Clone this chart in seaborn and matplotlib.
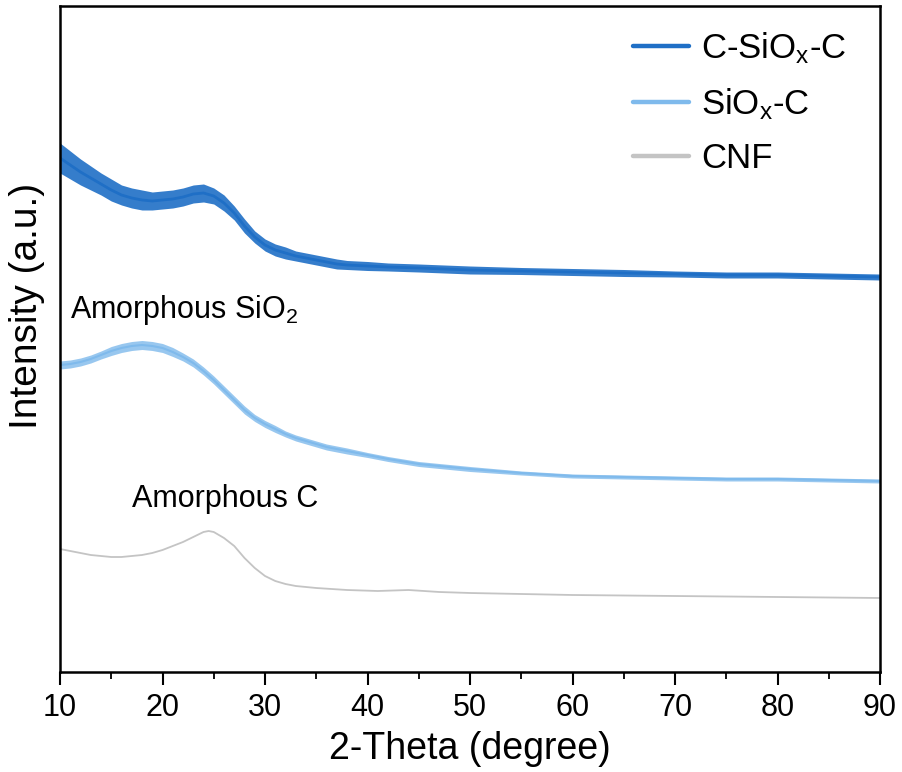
import numpy as np
import pandas as pd
import seaborn as sns
import matplotlib
matplotlib.use("Agg")
import matplotlib.pyplot as plt
from matplotlib.lines import Line2D
from matplotlib.ticker import MultipleLocator

# ---- data (arbitrary intensity units) ----
x_csio = [10, 11, 12, 13, 14, 15, 16, 17, 18, 19, 20, 21, 22, 23, 24, 25, 26, 27, 28, 29,
          30, 31, 32, 33, 34, 35, 36, 37, 38, 40, 42, 45, 50, 55, 60, 65, 70, 75, 80, 85, 90]
y_csio = [514, 507, 500, 494, 488, 482, 477, 474, 472, 471, 472, 473, 475, 478, 479, 476, 469, 459, 446, 435,
          427, 422, 419, 416, 414, 412, 410, 408, 407, 406, 405, 404, 402, 401, 400, 399, 398, 397, 397, 396, 395]
noise_csio = [15, 14, 13, 12, 11, 11, 10, 10, 10, 9, 9, 9, 9, 9, 9, 8, 8, 7, 7, 6,
              6, 6, 6, 5, 5, 5, 5, 5, 4.5, 4.5, 4, 4, 4, 3.5, 3.5, 3.5, 3, 3, 3, 3, 3]

x_sio = [10, 11, 12, 13, 14, 15, 16, 17, 18, 19, 20, 21, 22, 23, 24, 25, 26, 27, 28, 29,
         30, 31, 32, 33, 34, 35, 36, 38, 40, 42, 45, 50, 55, 60, 65, 70, 75, 80, 85, 90]
y_sio = [307, 308, 310, 313, 317, 321, 324, 326, 327, 326, 324, 320, 315, 309, 301, 292, 282, 272, 262, 254,
         248, 243, 238, 234, 231, 228, 225, 221, 217, 213, 208, 203, 199, 196, 195, 194, 193, 193, 192, 191]
noise_sio = [4, 4, 4, 4, 4, 4.5, 4.5, 4.5, 4.5, 4.5, 4.5, 4.5, 4, 4, 4, 4, 4, 4, 4, 3.5,
             3.5, 3.5, 3, 3, 3, 3, 3, 3, 2.5, 2.5, 2.5, 2.5, 2, 2, 2, 2, 2, 2, 2, 2]

x_cnf = [10, 11, 12, 13, 14, 15, 16, 17, 18, 19, 20, 21, 22, 23, 24, 24.5, 25, 26, 27, 28,
         29, 30, 31, 32, 33, 35, 38, 41, 44, 47, 50, 55, 60, 70, 80, 90]
y_cnf = [123, 121, 119, 117, 116, 115, 115, 116, 117, 119, 122, 126, 130, 135, 140, 141, 140, 134, 126, 114,
         104, 96, 91, 88, 86, 84, 82, 81, 82, 80, 79, 78, 77, 76, 75, 74]

series_names = ["C-SiO$_x$-C", "SiO$_x$-C", "CNF"]
colors = ["#1f6fc6", "#7fbaec", "#c4c4c4"]

x_ticks = [10, 20, 30, 40, 50, 60, 70, 80, 90]

df = pd.concat([
    pd.DataFrame({"x": x_csio, "y": y_csio, "s": series_names[0]}),
    pd.DataFrame({"x": x_sio, "y": y_sio, "s": series_names[1]}),
    pd.DataFrame({"x": x_cnf, "y": y_cnf, "s": series_names[2]}),
], ignore_index=True)

sns.set_style("ticks")
plt.rcParams["font.family"] = ["Liberation Sans", "DejaVu Sans"]
plt.rcParams["mathtext.default"] = "regular"
plt.rcParams["text.color"] = "black"
plt.rcParams["axes.labelcolor"] = "black"
plt.rcParams["xtick.color"] = "black"
plt.rcParams["ytick.color"] = "black"

fig = plt.figure(figsize=(9.03, 7.72), dpi=100)
ax = fig.add_axes([60 / 903, 100 / 772, 820 / 903, 666 / 772])

# noise envelopes
ax.fill_between(x_csio, np.array(y_csio) - np.array(noise_csio), np.array(y_csio) + np.array(noise_csio),
                color=colors[0], alpha=0.9, lw=0)
ax.fill_between(x_sio, np.array(y_sio) - np.array(noise_sio), np.array(y_sio) + np.array(noise_sio),
                color=colors[1], alpha=0.8, lw=0)

sns.lineplot(data=df, x="x", y="y", hue="s", palette=colors, estimator=None, sort=False,
             ax=ax, legend=False)
for ln, w in zip(ax.lines, [2.0, 1.5, 1.3]):
    ln.set_linewidth(w)

ax.set_xlim(10, 90)
ax.set_ylim(0, 666)
ax.set_yticks([])
ax.set_xticks(x_ticks)
ax.set_xticklabels([str(t) for t in x_ticks])
ax.xaxis.set_minor_locator(MultipleLocator(5))
ax.tick_params(axis="x", which="major", direction="out", length=9, width=1.5, labelsize=22, pad=6,
               colors="black", labelcolor="black")
ax.tick_params(axis="x", which="minor", direction="out", length=5, width=1.3, colors="black")
for sp in ax.spines.values():
    sp.set_visible(True)
    sp.set_linewidth(1.8)
    sp.set_color("black")

ax.set_xlabel("2-Theta (degree)", fontsize=27, color="black")
ax.set_ylabel("Intensity (a.u.)", fontsize=28, color="black")
ax.xaxis.set_label_coords(0.5, -0.088)
ax.yaxis.set_label_coords(-0.018, 0.55)

ax.text(11.0, 354, "Amorphous SiO$_2$", fontsize=22, ha="left", va="baseline", color="black")
ax.text(17.0, 165, "Amorphous C", fontsize=22, ha="left", va="baseline", color="black")

handles = [Line2D([0], [0], color=c, lw=3.2) for c in colors]
leg = ax.legend(handles, series_names, loc="upper left", bbox_to_anchor=(0.699, 0.964), frameon=False,
                fontsize=25, borderpad=0, borderaxespad=0, handlelength=1.6, handletextpad=0.35,
                labelspacing=0.58)
for t in leg.get_texts():
    t.set_color("black")

fig.savefig("out.png", dpi=100)
